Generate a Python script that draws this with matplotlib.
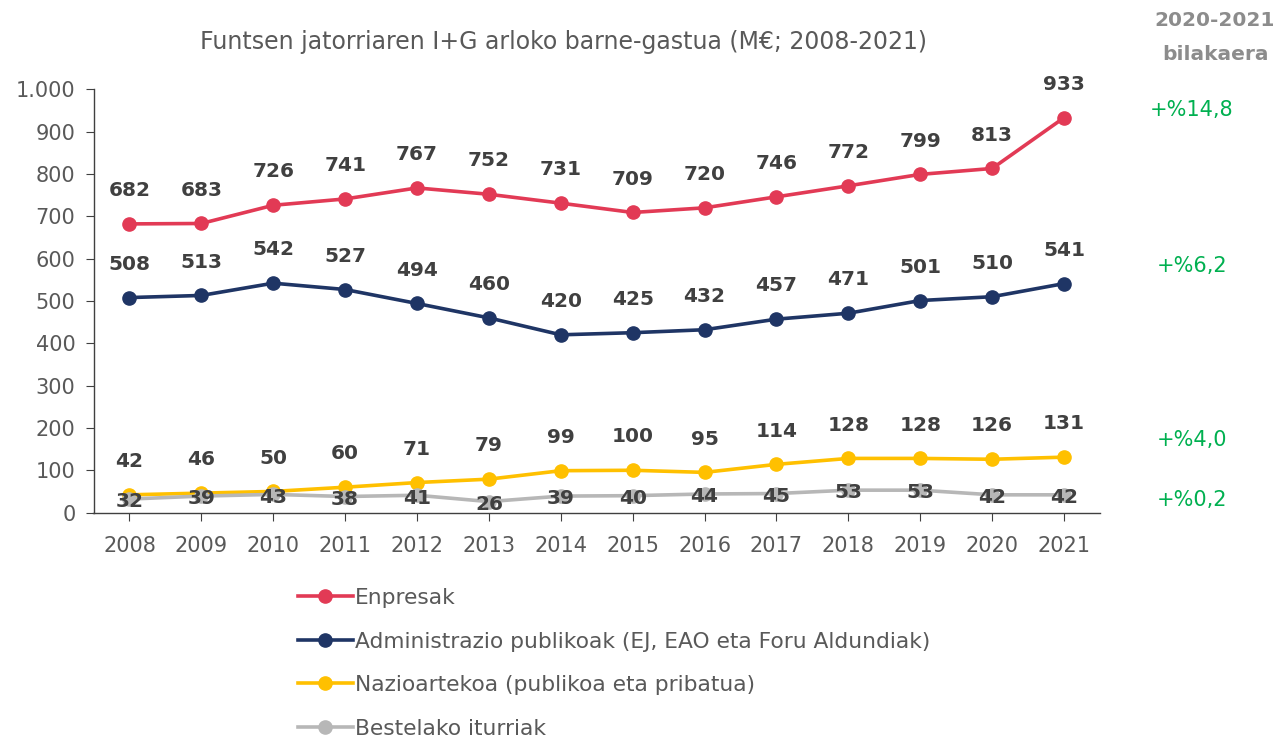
import matplotlib
matplotlib.use("Agg")
import matplotlib.pyplot as plt
from matplotlib.ticker import FuncFormatter

years = [2008, 2009, 2010, 2011, 2012, 2013, 2014, 2015, 2016, 2017, 2018, 2019, 2020, 2021]
enpresak = [682, 683, 726, 741, 767, 752, 731, 709, 720, 746, 772, 799, 813, 933]
administrazioa = [508, 513, 542, 527, 494, 460, 420, 425, 432, 457, 471, 501, 510, 541]
nazioartekoa = [42, 46, 50, 60, 71, 79, 99, 100, 95, 114, 128, 128, 126, 131]
bestelakoak = [32, 39, 43, 38, 41, 26, 39, 40, 44, 45, 53, 53, 42, 42]

series_names = ["Enpresak",
                "Administrazio publikoak (EJ, EAO eta Foru Aldundiak)",
                "Nazioartekoa (publikoa eta pribatua)",
                "Bestelako iturriak"]
changes = ["+%14,8", "+%6,2", "+%4,0", "+%0,2"]
change_y = [110, 266, 440, 500]  # pixel rows of annotations

title = "Funtsen jatorriaren I+G arloko barne-gastua (M€; 2008-2021)"
side_title = ["2020-2021", "bilakaera"]

colors = ["#E23A55", "#1F3565", "#FFC000", "#B7B7B7"]
label_color = "#404040"
text_color = "#595959"

plt.rcParams['font.family'] = ['DejaVu Sans']

W, H = 1277, 737
fig = plt.figure(figsize=(W / 100, H / 100), dpi=100)
ax = fig.add_axes([93.5 / W, 1 - 512.6 / H, (1100 - 93.5) / W, (512.6 - 89.3) / H])

xs = list(range(len(years)))
data = [enpresak, administrazioa, nazioartekoa, bestelakoak]
handles = []
for vals, c, name in zip(data, colors, series_names):
    h, = ax.plot(xs, vals, color=c, lw=2.6, marker='o', ms=9.5, label=name, zorder=3)
    handles.append(h)

# data labels
for i, (vals, c) in enumerate(zip(data, colors)):
    for x, v in zip(xs, vals):
        dy = -2 if i == 3 else 24
        ax.annotate(str(v), (x, v), xytext=(0, dy), textcoords='offset points',
                    ha='center', va='center', fontsize=14.5, fontweight='bold',
                    color=label_color, zorder=5)

ax.set_xlim(-0.5, len(years) - 0.5)
ax.set_ylim(0, 1000)
ax.set_yticks(range(0, 1001, 100))
ax.yaxis.set_major_formatter(FuncFormatter(lambda v, p: f"{int(v):,}".replace(",", ".")))
ax.set_xticks(xs)
ax.set_xticklabels([str(y) for y in years])
for s in ['top', 'right']:
    ax.spines[s].set_visible(False)
for s in ['left', 'bottom']:
    ax.spines[s].set_color('#404040')
    ax.spines[s].set_linewidth(1.0)
ax.tick_params(axis='both', colors='#404040', labelcolor=text_color, labelsize=15, length=6, direction='out')
ax.tick_params(axis='x', pad=11)
ax.tick_params(axis='y', pad=7)

fig.text(563 / W, 1 - 42 / H, title, ha='center', va='center', fontsize=17, color=text_color)
fig.text(1215 / W, 1 - 21 / H, side_title[0], ha='center', va='center', fontsize=14.5,
         fontweight='bold', color='#8C8C8C')
fig.text(1215 / W, 1 - 55 / H, side_title[1], ha='center', va='center', fontsize=14.5,
         fontweight='bold', color='#8C8C8C')
for t, yy in zip(changes, change_y):
    fig.text(1192 / W, 1 - yy / H, t, ha='center', va='center', fontsize=15, color='#00B050')

leg = fig.legend(handles=handles, loc='upper left', bbox_to_anchor=(298 / W, 1 - 588 / H),
                 frameon=False, fontsize=15.7, labelcolor=text_color, handlelength=2.5,
                 handletextpad=0.12, labelspacing=1.08, borderaxespad=0, borderpad=0)

fig.savefig("out.png", dpi=100)
